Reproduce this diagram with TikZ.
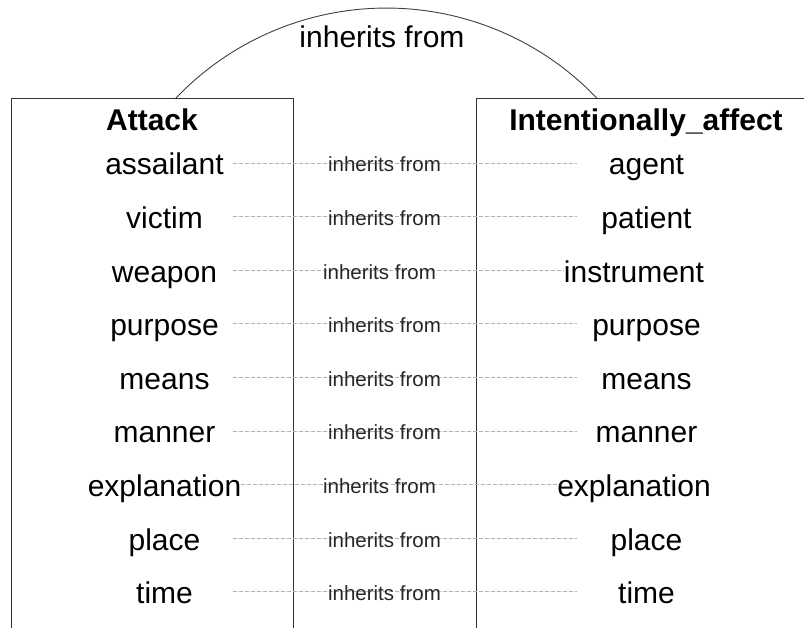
\documentclass[tikz,border=0pt]{standalone}
\usepackage{fontspec}
\setmainfont{Liberation Sans}
\begin{document}
\begin{tikzpicture}[x=1pt,y=1pt,
  frame/.style={draw=black!80, line width=1.1pt, inner sep=0pt, anchor=north west},
  title/.style={font=\fontsize{30}{33}\selectfont\bfseries, inner sep=0pt, anchor=base},
  role/.style={font=\fontsize{30}{33}\selectfont, anchor=base, inner sep=0pt,
    text height=24pt, text depth=0pt},
  leftrole/.style={role, minimum width=137pt},
  rightrole/.style={role, minimum width=139pt},
  link/.style={draw=black!30, dash pattern=on 4pt off 2pt, line width=0.7pt},
  linklabel/.style={font=\fontsize{20.5}{23}\selectfont, text=black!85, inner sep=0pt, anchor=base},
  arch/.style={draw=black!75, line width=0.9pt},
]
\useasboundingbox (0,0) rectangle (804,-628);
\fill[white] (0,0) rectangle (804,-628);
\clip (0,0) rectangle (804,-628);

% the two frames, open at the bottom of the page
\node[frame, minimum width=282, minimum height=570] (attackframe) at (11,-98) {};
\node[frame, minimum width=340, minimum height=570] (affectframe) at (476,-98) {};

\node[title] (attack) at (152,-131) {Attack};
\node[title] (affect) at (646,-131) {Intentionally\_affect};

% frame-level inheritance arc
\coordinate (arcL) at (176,-98);
\draw[arch] (arcL) arc[start angle=136.3, end angle=43.7, radius=291] coordinate (arcR);
\node[font=\fontsize{30}{33}\selectfont, inner sep=0pt, anchor=base] (toplabel) at (382,-48) {inherits from};

% role-level inheritance links: index / Attack role / Intentionally_affect role / x of right role / x of link label
\foreach \i/\l/\r/\rx/\mx in {
  1/assailant/agent/646.5/384.5,
  2/victim/patient/646.5/384.5,
  3/weapon/instrument/634/379.5,
  4/purpose/purpose/646.5/384.5,
  5/means/means/646.5/384.5,
  6/manner/manner/646.5/384.5,
  7/explanation/explanation/634/379.5,
  8/place/place/646.5/384.5,
  9/time/time/646.5/384.5}{
  \pgfmathsetmacro\yy{-175-53.6*(\i-1)}
  \node[leftrole] (L\i) at (164.5,\yy) {\l};
  \node[rightrole] (R\i) at (\rx,\yy) {\r};
  \draw[link] (L\i) -- (R\i);
  \node[linklabel] (M\i) at (\mx,\yy+3) {inherits from};
}
\end{tikzpicture}
\end{document}
